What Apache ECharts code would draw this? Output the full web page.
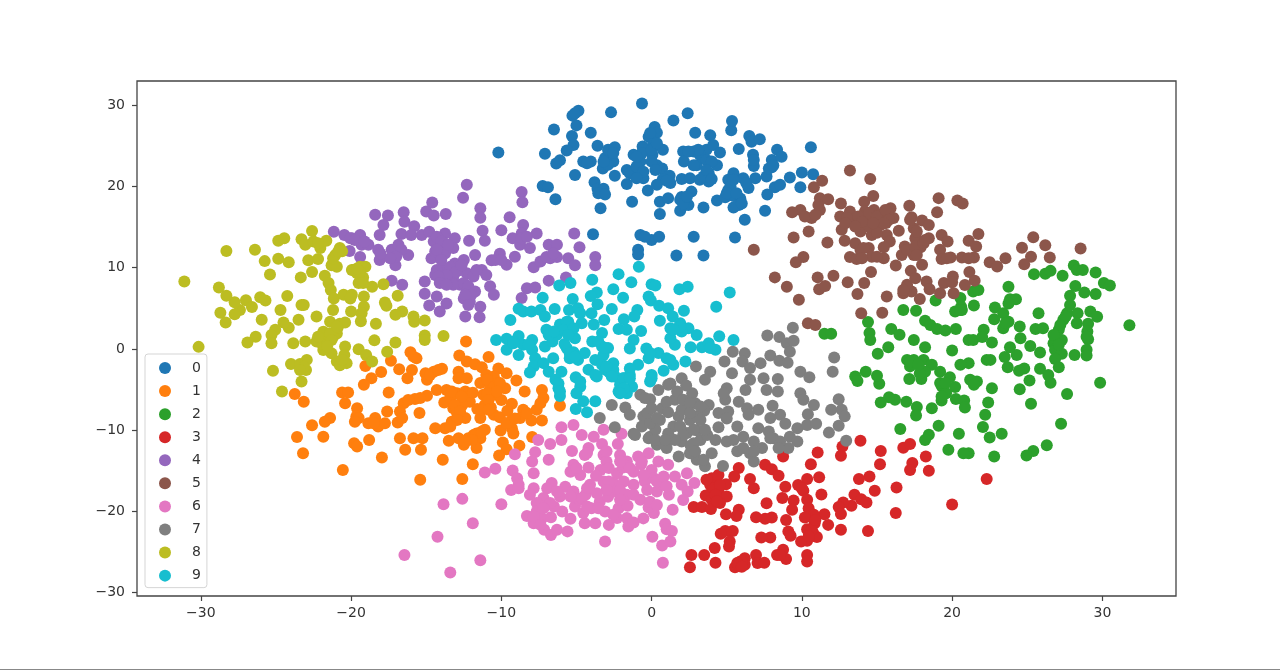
<!DOCTYPE html>
<html>
<head>
<meta charset="utf-8">
<style>html,body{margin:0;padding:0;background:#fff}#c{width:1280px;height:670px}</style>
<script src="https://cdn.jsdelivr.net/npm/echarts@6/dist/echarts.min.js"></script>
</head>
<body>
<div id="c"></div>
<script>
const labels = ['0','1','2','3','4','5','6','7','8','9'];
const colors = ['#1f77b4','#ff7f0e','#2ca02c','#d62728','#9467bd','#8c564b','#e377c2','#7f7f7f','#bcbd22','#17becf'];
const xTicks = [-30,-20,-10,0,10,20,30];
const yTicks = [-30,-20,-10,0,10,20,30];

const digit0 = [[-10.2,24.15],[-0.64,30.2],[-2.7,29.1],[-4.87,29.3],[-5.27,28.7],[-5,27.5],[-6.5,27],[-4.05,26.6],[-5.3,26.2],[-5.2,25.1],[-5.65,24.4],[-7.1,24],[-6.1,23.2],[-6.35,22.8],[-5.1,21.4],[-7.25,20.05],[-6.9,19.9],[-6.4,18.4],[-3.8,20.5],[-3.6,19.7],[-3.2,19.7],[-3.55,19.15],[-3.1,19],[-3.4,17.3],[-3.9,14.1],[-4.55,23.05],[-4.05,23.05],[-3.6,25],[-3.25,22.2],[-3.1,23.5],[-2.9,24.5],[-2.45,24.8],[-2.55,23.05],[-2.45,21.3],[-1.65,20.3],[-1.3,18.1],[-1.65,22],[-1.2,23.9],[-0.6,24.9],[-0.75,23.05],[-1.1,21.8],[-0.55,21],[-0.25,19.5],[-0.2,26.1],[0.2,27.3],[0.35,26.6],[0.1,25.2],[0.05,23.9],[0.35,22.6],[0.75,24.5],[0.7,22.2],[1.2,21.3],[0.75,20.9],[0.35,20.2],[1.25,20.4],[1.45,28.1],[2.4,29],[2.9,26.6],[0.55,18.1],[1.1,18.55],[0.55,16.6],[1.9,17],[2,18.7],[2.45,17.7],[2.65,19.35],[2,20.9],[2.55,21],[2.1,24.3],[2.8,24.3],[2.15,23.05],[3,22.6],[3.45,23.45],[3.65,24.5],[3.9,26.3],[4.1,25.1],[4.55,24.15],[4.35,22.6],[3.2,20.8],[3.8,21.6],[3.8,20.6],[3.45,17.4],[4.35,18.25],[4.9,18.65],[5.3,26.9],[5.35,28.05],[5.8,24.6],[6.5,26.2],[6.65,25.5],[7.2,25.8],[6.75,23.9],[6.8,22.5],[5.45,21.6],[5.1,20.8],[6.1,21],[6.9,21],[6.45,19.8],[5.1,19.55],[5.45,18.8],[5.9,18.5],[5.8,17.7],[5.45,17.4],[6.2,15.9],[7.55,17],[7.65,21.2],[8,23.25],[8,22.35],[8.35,24.5],[8.65,23.65],[8.2,19.9],[8.55,20.2],[7.7,19],[9.2,21.1],[9.9,19.9],[10,21.7],[10.75,21.5],[10.6,24.8],[-0.75,14],[-0.9,12.2],[-0.9,11.6],[0,13.4],[0.5,13.8],[-0.45,13.8],[1.65,11.5],[3.45,11.5],[2.8,13.8],[5.55,13.7],[-1.45,21.6],[-1,22.45],[-0.55,21.8],[-1,21],[-0.65,24.1],[-1,23.65],[0,23.05],[0.25,22],[1,20.7],[3.2,23.9],[3.65,23.25],[4,23.05],[3.1,24.5],[2.45,24.3],[2.8,22.6],[3.45,21.2],[3.65,22],[4,20.9],[2.2,17.7],[1.9,18.35],[2.1,17.9],[2.35,18.75],[5.25,20],[5.45,20.8],[5,19.15],[5.65,19.15],[6,17.9],[6.3,20.4],[7.8,22.2],[8.1,22.6],[6.8,23.25],[0,24.5],[0.35,25.3],[-2.9,22.65],[-3.2,23.05],[-2.55,24.1],[-4.3,22.85],[-0.1,26.55],[-5.1,29]];

const digit1 = [[-12.35,0.9],[-12.8,-0.8],[-10.85,-1],[-12.3,-1.55],[-11.75,-1.9],[-11.3,-2.25],[-16.05,-0.4],[-17.35,-1.45],[-15.65,-1.15],[-16.8,-2.5],[-15.95,-2.6],[-16.25,-3.6],[-19.05,-2.1],[-18,-2.85],[-18.65,-3.6],[-19.15,-4.4],[-15.05,-3],[-14.5,-2.8],[-13.95,-2.45],[-14.95,-3.8],[-12.85,-2.8],[-12.85,-3.6],[-12.3,-3.6],[-10.2,-2.4],[-9.65,-3],[-9,-3.9],[-11.4,-4.2],[-10.5,-3.4],[-10.75,-4.85],[-9.75,-4.85],[-8.45,-5.25],[-7.3,-5.05],[-7.2,-6.05],[-10.4,-5.65],[-11.2,-5.65],[-14.3,-5.05],[-13.65,-5.05],[-12.95,-5.45],[-12.4,-5.25],[-12.1,-6.5],[-17.5,-5.35],[-20.6,-5.35],[-20.2,-5.35],[-20.4,-6.7],[-23.75,-5.55],[-23.15,-6.5],[-19.6,-7.3],[-19.65,-8.3],[-18.85,-9.15],[-18.4,-8.5],[-18.2,-9.55],[-17.75,-9.15],[-17.6,-7.7],[-14.95,-5.75],[-15.75,-6.15],[-16.5,-6.7],[-16.75,-7.7],[-16.9,-9.05],[-15.45,-7.9],[-13.8,-6.6],[-13.2,-7.3],[-11.1,-6.9],[-11.4,-8.5],[-9.3,-6.75],[-8.55,-7.5],[-7.65,-7.5],[-6.1,-7],[-12.4,-8.5],[-12.95,-7.9],[-13.3,-8.95],[-13.75,-9.75],[-14.4,-9.75],[-10.5,-8.1],[-10.1,-8.4],[-9.3,-8.75],[-8.75,-8.5],[-8,-8.8],[-7.3,-8.8],[-9.3,-9.75],[-10.05,-10.05],[-11.1,-9.95],[-9.2,-10.4],[-11.85,-10.6],[-11.4,-11],[-12.2,-11],[-12.85,-11],[-13.5,-11.3],[-12.5,-11.8],[-11.65,-12.2],[-16.75,-11],[-15.85,-11],[-15.25,-11],[-16.4,-12.4],[-15.35,-12.4],[-18.8,-11.2],[-19.8,-11.6],[-19.6,-12],[-21.4,-8.5],[-21.75,-8.95],[-22.6,-9.4],[-21.85,-10.8],[-23.6,-10.85],[-23.2,-12.85],[-17.95,-13.35],[-20.55,-14.9],[-13.9,-13.65],[-11.9,-14.2],[-15.4,-16.1],[-12.6,-16],[-9.9,-11.5],[-9.65,-12.35],[-10.15,-13.1],[-8.8,-11.9],[-7.95,-10.85],[-10.9,-6],[-10,-6.3],[-11.6,-7.4],[-10.7,-7.2],[-12.6,-6.9],[-13.4,-6],[-11.9,-5.4],[-10.2,-4.2],[-11,-3.2],[-9.6,-7.6],[-10.95,-3.8],[-10.5,-4.65],[-10.1,-4.2],[-10.95,-5.45],[-10.3,-5.25],[-10.85,-6.3],[-11.3,-7.5],[-10.85,-7.5],[-13.3,-5.25],[-12.65,-5.85],[-13.1,-6.9],[-12.75,-7.7],[-12.95,-8.75],[-13.4,-9.55],[-9.65,-9.15],[-9.1,-8.55],[-8.3,-7.9],[-7.4,-6.7],[-11.65,-10.4],[-11.3,-10.15],[-11.95,-11.2],[-12.4,-11.4],[-18.5,-9.15],[-16.6,-8.5],[-16.2,-6.3],[-15.4,-6.05],[-14.75,-3.2],[-14.2,-2.6],[-19.5,-8.5],[-19.75,-8.95],[-15.85,-0.95]];

const digit2 = [[11.5,1.85],[11.95,1.85],[14.4,3.3],[14.5,1.95],[14.55,1.1],[16.75,4.8],[17.6,4.7],[18.9,5.95],[18.2,3.45],[18.55,2.95],[19,2.45],[19.55,2.25],[20.25,2.45],[15.95,2.45],[16.5,1.75],[17.45,1.1],[18.2,0.2],[15.75,0.2],[15.05,-0.6],[20,-0.2],[21.1,1.1],[21.4,1.1],[22.1,2.35],[22,1.45],[22.65,0.8],[20.55,6.25],[20.6,5.2],[20.2,4.6],[20.65,4.8],[21.45,5.35],[21.4,7.05],[21.75,7.25],[23.75,7.65],[23.85,6.1],[24.25,6.1],[22.85,5.1],[23.4,4.4],[22.8,3.65],[23.75,3.35],[23.4,2.55],[24.5,2.75],[25.75,4.4],[25.55,2.45],[26.05,2.55],[25.45,9.2],[26.2,9.25],[26.55,9.6],[27.35,9],[28.1,10.25],[28.3,9.7],[28.7,9.7],[29.55,9.4],[30.1,8.1],[30.5,7.8],[28.2,7.75],[27.85,6.55],[28.8,6.95],[29.55,6.75],[27.85,5.4],[27.65,4.4],[28.35,4.4],[29.2,4.6],[29.65,3.95],[27.4,3.6],[28.3,3.15],[29.05,3.1],[29,2.15],[29.05,1.2],[27.1,2.35],[27.3,1.1],[26.85,1.5],[26.75,0.7],[26.85,-0.1],[27.3,-0.6],[26.85,-1.25],[27.1,-2.25],[28.15,-0.75],[28.95,-0.1],[28.95,-0.8],[31.8,2.9],[29.85,-4.15],[27.65,-5.55],[27.25,-9.2],[26.3,-11.85],[25.4,-12.55],[24.95,-13.1],[22.8,-13.25],[21.1,-12.85],[20.75,-12.85],[19.75,-12.4],[23.3,-10.45],[22.5,-10.9],[22.05,-9.6],[20.45,-10.45],[22.2,-8.1],[22.4,-6.6],[22.65,-4.85],[24.5,-4.95],[25.25,-6.75],[26.55,-4.15],[26.4,-3.2],[25.85,-2.45],[25.15,-3.9],[24.8,-2.4],[24.45,-2.7],[23.7,-2.25],[24.3,-0.75],[23.85,0.2],[23.5,-1],[24.55,1.3],[25.2,0.35],[25.85,-0.45],[22.3,-1.35],[22.55,-1.35],[21.1,-1.75],[20.55,-1.95],[21.2,-3.8],[21.65,-4],[21.45,-4.4],[20.2,-4.7],[19.85,-3.5],[19.2,-2.8],[19.3,-4.55],[19.6,-5.45],[19.3,-6.35],[20.25,-6.15],[20.8,-6.35],[20.85,-7.2],[18.65,-7.3],[17.65,-7.15],[17.6,-8.2],[16.95,-6.5],[16.2,-6.25],[15.8,-5.95],[15.25,-6.6],[15.15,-4.3],[15,-3.3],[14.25,-2.8],[13.55,-3.4],[13.7,-3.95],[17.15,-3.7],[17.95,-3.7],[17,-1.35],[17.2,-2.15],[17.45,-1.35],[18.1,-1.35],[18.65,-1.95],[18.2,-2.8],[19.1,-9.45],[18.45,-10.55],[18.2,-11.2],[16.55,-9.85],[27.55,3.98],[27.2,2.95],[26.75,1.7],[27.1,0.5],[28.95,1.5],[23.75,5.6],[23.55,3.15],[20.55,4.8],[19.2,-4.2],[19.55,-4.2],[19.3,-5.85],[17.85,-3],[17.2,-1.55],[17.75,-1.95]];

const digit3 = [[13.9,-11.3],[12.7,-12],[12.6,-13.15],[11.05,-12.75],[8.75,-13.25],[10.6,-14.2],[15.25,-12.55],[15.2,-14.2],[16.75,-12.15],[17.2,-11.7],[18.25,-13.25],[17.35,-14.05],[17.2,-14.9],[18.45,-15],[22.3,-16],[20,-19.15],[16.3,-17.05],[16.25,-20.2],[14.85,-17.45],[14.5,-15.7],[13.8,-16],[13.5,-17.95],[13.95,-18.5],[14.3,-18.9],[14.4,-22.4],[12.6,-22.25],[11.75,-21.65],[11.5,-20.35],[13.3,-19.3],[12.75,-18.9],[12.45,-19.45],[12.6,-20.3],[11.3,-17.9],[11.15,-15.8],[10.35,-16],[9.75,-16.75],[10.1,-17.45],[8.9,-16.95],[10.35,-18.55],[10.45,-19.6],[10.8,-20.4],[10.2,-20.75],[10.85,-21.45],[10.35,-22.2],[10.75,-22.65],[11,-23.15],[10.35,-23.6],[9.95,-23.7],[8.7,-18.35],[9.45,-18.65],[9.35,-19.8],[8.95,-21.05],[9.1,-22.45],[9.25,-23],[7.9,-23.2],[7.65,-19],[8,-20.75],[7.55,-20.9],[6.95,-20.7],[6.8,-17.15],[6.55,-16],[7.55,-14.25],[8,-14.8],[8.45,-15.6],[5.8,-14.65],[5.5,-15.7],[4.95,-16.65],[4,-15.9],[4.45,-15.5],[3.9,-16.75],[4.45,-17.35],[3.6,-18.05],[4,-18.55],[5,-18.15],[4.55,-18.95],[2.8,-19.45],[3.35,-19.45],[3.95,-19.7],[4.95,-20.35],[5.8,-19.8],[5.65,-20.55],[5.4,-22.4],[4.9,-22.4],[4.6,-22.75],[5.2,-23.7],[5.15,-24.3],[4.2,-24.5],[3.5,-25.35],[2.65,-25.35],[4.25,-26.3],[2.55,-26.85],[5.55,-26.85],[5.9,-26.15],[6.2,-25.75],[6.2,-26.55],[5.75,-26.55],[6.95,-25.35],[7.05,-26.35],[7.5,-26.3],[8.35,-25.35],[8.75,-24.7],[8.95,-25.85],[10.35,-25.35],[10.35,-26.15],[7.3,-23.2],[4.1,-17.15],[4.55,-16.75],[4.25,-17.95],[3.65,-16.1],[4.35,-18.75],[6,-26.15],[5.7,-26.35],[6,-26.8],[10.65,-22.25],[10.9,-21.05],[10.45,-23.05],[10,-17.15],[8.55,-25.35]];

const digit4 = [[-12.3,20.2],[-12.55,18.6],[-14.6,18],[-15,16.9],[-14.5,16.4],[-13.7,16.6],[-16.5,16.8],[-16.45,15.65],[-18.4,16.5],[-17.55,16.4],[-17.85,15.25],[-18.1,14],[-21.15,14.4],[-20.45,14],[-19.95,13.6],[-19.4,14],[-19.3,12.8],[-18.85,12.8],[-20.1,12.05],[-19.4,11.3],[-18.2,12.2],[-18.1,10.95],[-17.3,12.2],[-16.85,12.8],[-16.2,11.55],[-17.05,10.3],[-16.65,14.15],[-15.8,15.1],[-16,14],[-15.3,14],[-14.8,14.4],[-14.5,13.2],[-14.65,11.15],[-14.4,12],[-13.75,14.2],[-13.85,13],[-13.75,11.75],[-13.1,13.6],[-13.2,12.4],[-13.1,10.5],[-12.5,10.95],[-12.15,13.3],[-11.75,11.55],[-11.4,17.3],[-11.4,16.15],[-11.25,14.55],[-11.1,13.3],[-10.65,10.9],[-10.1,11.7],[-10,14.6],[-9.45,16.2],[-9.65,10.35],[-9.1,11.35],[-8.65,19.3],[-8.6,18.05],[-9.25,13.6],[-8.75,12.8],[-8.55,15.25],[-8.65,14.2],[-8.1,12.4],[-7.65,14.2],[-7.85,10.05],[-7.4,10.75],[-6.85,12.8],[-6.3,12.8],[-6.75,11.15],[-6.3,11.3],[-5.15,14.2],[-4.8,12.5],[-5.55,11.15],[-5.1,10.3],[-3.75,11.3],[-3.75,10.3],[-14.4,9.1],[-13.75,9.9],[-13.2,8.9],[-12.3,9.3],[-11.3,9.7],[-11,9.1],[-11.85,8.9],[-13.85,8.7],[-12.75,7.9],[-12.3,7.05],[-11.75,7.05],[-10.75,7.7],[-10.5,6.65],[-12.1,5.8],[-11.4,5.2],[-12.4,4],[-11.45,3.9],[-15.1,8.3],[-15.1,6.8],[-14.3,6.45],[-13.65,5.6],[-14.8,5.35],[-14.1,4.6],[-17.3,8.4],[-16.6,7.9],[-6.85,8.4],[-5.7,8.8],[-8.3,7.45],[-7.75,7.55],[-8.65,6.25],[-13.3,8.1],[-12.75,9.7],[-14.3,9.7],[-12.5,6.2],[-14.3,13.8],[-14,13.2],[-13.55,12.8],[-14.3,12.2],[-14,10.95],[-13.4,10.1],[-13,9.5],[-12.65,10.3],[-13.65,9.1],[-13.2,7.9],[-12.5,8.1],[-12.2,7.7],[-12,6.65],[-12.4,6.65],[-12.2,5.4],[-14.2,8.9],[-14.1,8.1],[-13.65,7.9],[-20.05,13.6],[-19.75,13.4],[-19.1,13.2],[-16.65,12.2],[-17,11.35],[-17.4,11.15],[-8.65,13.6],[-8.3,13.8],[-10.4,10.95],[-10,10.95],[-7,11.3],[-6.55,11.75],[-11.65,9.7],[-18.05,11.75]];

const digit5 = [[13.2,21.95],[14.55,20.9],[14.75,18.8],[11.35,20.7],[10.8,19.9],[11.2,18.55],[11.75,18.4],[11.2,17.1],[10.65,16.1],[9.9,17.1],[9.35,16.8],[10.2,16.3],[9.45,13.7],[10.45,14.45],[11.7,13.1],[6.8,12.2],[10.1,11.3],[9.6,10.65],[8.2,8.8],[9,7.65],[9.8,6.05],[11.05,8.8],[12.1,9],[11.15,7.35],[11.55,7.75],[13.05,8.2],[14.15,8.1],[13.7,6.75],[14.6,9.45],[15.65,6.45],[13.95,4.4],[15.35,4.45],[10.4,3.15],[10.9,2.95],[12.6,17.9],[13.2,16.9],[12.55,16.3],[13.35,15.9],[12.65,14.65],[12.85,13.3],[14.15,18.1],[14.2,16.9],[14.3,15.65],[13.9,14.45],[14.65,14],[14.8,17.1],[15.3,16.5],[15.9,17.3],[16.1,16.1],[15.2,15.25],[16.45,14.55],[15.65,14],[15.85,13.2],[13.55,13],[13.9,12.2],[14.45,12.4],[13.2,11.3],[13.65,11.05],[14.65,11.35],[15.45,11.15],[15.45,12.5],[16.25,10.25],[17.15,17.6],[19.1,18.55],[20.35,18.25],[20.7,17.9],[19,16.8],[17.3,16.2],[18,15.8],[18.45,15.25],[17.45,14.85],[17.55,13.6],[18.45,13.6],[16.85,12.6],[16.65,11.55],[17.45,11.55],[17.9,12.5],[19.3,14],[19.7,13.2],[21.75,14.15],[21.1,13.3],[21.6,12.6],[19.2,12.2],[19.3,11.05],[19.9,11.25],[20.65,11.25],[21.45,11.25],[21.1,11.15],[22.5,10.65],[23,10.15],[23.55,11.15],[24.65,12.45],[25.4,13.75],[26.2,12.75],[25.25,11.35],[26.5,11.25],[24.8,10.4],[28.55,12.35],[18,10.35],[17.25,9.6],[17.55,8.7],[17,7.9],[16.75,6.85],[17.3,7.05],[17.85,6.15],[18.3,8.3],[18.5,7.35],[19.45,8.1],[20.05,8.9],[20,8.2],[19.2,6.85],[20.1,6.85],[21.15,9.45],[21.5,8.4],[20.85,7.85],[14,16.3],[14.9,15.9],[15.6,15.5],[14.5,15],[15,14.3],[15.7,16.8],[13,16.1],[12.9,15.45],[14.45,16.7],[15,16.3],[15.55,17.1],[15.8,15.9],[15.45,15.45],[14.75,15.45],[13.75,16.3],[14,15.65],[13.55,15.05],[17,12.2],[17.55,12.6],[18.1,13],[17.65,14.45],[18.2,13.4],[17.2,15.9],[17,7.65],[16.75,7.25],[14.1,12.4],[15,11.35],[14,11.15],[10.9,16.5],[11.1,17.7],[17.65,11.55],[19.65,11.15]];

const digit6 = [[-16.45,-25.35],[-13.4,-27.5],[-11.4,-26],[-14.25,-23.1],[-11.9,-21.45],[-13.85,-19.1],[-12.6,-18.45],[-10,-19.1],[-11.1,-15.2],[-10.4,-14.75],[-9.25,-14.95],[-8.95,-15.9],[-8.85,-16.7],[-9.35,-17.35],[-8.85,-17.15],[-9.1,-12.95],[-7.75,-12.7],[-7.95,-13.85],[-7.85,-15.3],[-6.85,-13.65],[-6.75,-11.7],[-7.55,-11.2],[-6,-11.2],[-6,-9.65],[-5.2,-9.35],[-5.3,-12.55],[-4.65,-10.6],[-3.85,-10.8],[-3.2,-9.95],[-3.3,-11.7],[-4.2,-12.2],[-4.45,-13.05],[-3.2,-13.05],[-2.25,-11.7],[-2,-10.45],[-5.2,-14.25],[-5.4,-15.1],[-4.2,-14.6],[-4.75,-15.5],[-3,-13.85],[-3.4,-14.9],[-2.1,-13.05],[-1.65,-13.85],[-0.9,-13.25],[-0.2,-12.85],[0.45,-13.85],[1.1,-14.25],[0,-14.9],[-1.2,-15.1],[-2.3,-15.3],[2.35,-15.3],[1.55,-15.7],[2.85,-16.5],[2,-16.7],[0.15,-15.9],[-3.2,-16.3],[-2.55,-16.5],[-4.1,-16.7],[-1.2,-16.7],[-0.45,-16.3],[-7.85,-17.15],[-8.1,-17.95],[-6.65,-16.5],[-5.75,-16.95],[-6.95,-17.15],[-7.2,-18.35],[-6.1,-18.15],[-5.2,-17.55],[-4.4,-17.95],[-5.1,-19.4],[-3.45,-18.8],[-2.55,-17.55],[-1.65,-17.95],[-0.75,-18.55],[0.35,-17.55],[1.15,-17.95],[2.4,-17.55],[2.1,-18.6],[-7.65,-18.95],[-7.65,-20],[-8.3,-20.55],[-7.85,-21.45],[-7.3,-20.85],[-7.15,-22.25],[-6.7,-22.9],[-6.3,-22.25],[-5.6,-22.45],[-5.95,-20],[-5.4,-20.9],[-4.45,-21.45],[-3.75,-21.45],[-4.55,-20.2],[-4,-19.6],[-3.1,-20],[-2.2,-19.6],[-2.85,-21.65],[-2.3,-20.8],[-1.65,-20.8],[-1.55,-21.85],[-1.2,-21.35],[-0.55,-20.85],[0.15,-20.2],[1.4,-19.8],[0.9,-21.5],[1,-22.2],[1.35,-22.4],[0.05,-23.1],[-3.1,-23.7],[0.7,-24.2],[1.25,-23.7],[0.75,-26.3],[-1.6,-19.3],[-0.2,-19.5],[-2.9,-18.2],[-4.8,-18.6],[-3.7,-15.6],[-1.9,-14.6],[-0.7,-14.2],[0.8,-16.7],[-6.5,-19.4],[-6.7,-20.7],[-1.85,-14.25],[-1.45,-14.65],[-0.65,-13.85],[-0.55,-15.5],[-2.1,-13.85],[-2.85,-14.65],[-2.85,-16.3],[-1.85,-16.3],[-2.1,-17.35],[-1.2,-17.95],[-0.3,-17.35],[0.35,-16.3],[0.8,-15.7],[-0.1,-18.8],[0.35,-19.2],[-3,-17.35],[-3.65,-17.75],[-4.3,-17.15],[-4.65,-18.35],[-5.4,-18.15],[-6.3,-17.55],[-6.75,-18.95],[-7.2,-19.6],[-7.85,-20.6],[-7.4,-21.65],[-2.55,-20.4],[-2.1,-18.55],[-4.3,-19.4],[-3.55,-19.6],[-5,-14.65],[-4.3,-12.8],[-3,-12.6],[1,-16.9]];

const digit7 = [[7.7,1.65],[9.4,2.6],[8.5,1.45],[9,0.7],[9.45,1],[9.2,-0.35],[5.4,-0.35],[6.2,-0.55],[4.85,-1.55],[6.05,-1.55],[6.55,-2.35],[7.25,-1.75],[7.9,-0.8],[8.5,-1.45],[9.05,-1.7],[9.9,-2.8],[10.5,-3.5],[12.15,-1.05],[12.05,-2.8],[5.35,-3],[2.95,-2.15],[3.9,-2.8],[3.55,-3.8],[6.55,-3.8],[7.45,-3.6],[8.4,-3.7],[6.25,-5.05],[5,-4.85],[4.9,-6.25],[7.65,-5.05],[8.4,-5.25],[9.9,-5.45],[10.1,-6.25],[10.8,-6.9],[12.45,-6.2],[11.95,-7.5],[12.65,-7.5],[12.85,-8.3],[10.4,-8.05],[8.05,-7],[7.1,-7.5],[6.35,-7.3],[5.8,-6.5],[6.45,-8.1],[8.55,-8.1],[7.9,-8.5],[5.1,-7.7],[4.45,-7.9],[3.8,-6.9],[8.9,-9.2],[9.7,-9.75],[10.35,-9.35],[10.95,-9.2],[12.45,-9.45],[11.8,-10.3],[12.95,-11.3],[7.1,-9.75],[7.8,-10.15],[8.1,-11],[9.2,-10.8],[9.7,-11.4],[9.1,-12.2],[8.55,-11.4],[7.35,-12.2],[6.8,-11.4],[6.1,-10.8],[5.7,-9.55],[5,-8.55],[4.45,-9.65],[5,-11.4],[5.7,-12.6],[6.55,-12.85],[6.8,-13.85],[4.75,-14.4],[4,-12.85],[3.55,-14.45],[3,-13.65],[2.55,-12.85],[3.25,-11.2],[3.7,-10.6],[1.8,-13.25],[1.25,-11],[0.35,-11.8],[-0.1,-10.8],[-1.2,-10.45],[-2.45,-9.65],[-3.45,-8.5],[-1.75,-7.2],[-1.45,-8.1],[-2.65,-6.9],[-0.75,-5.65],[-0.1,-6.2],[0.45,-5.05],[1.1,-4.4],[1.55,-6.25],[2,-3.6],[2.7,-5.45],[2.9,-6.7],[0.7,-7.3],[-0.55,-8.3],[-0.65,-9.55],[0.55,-8.75],[0.25,-9.95],[1.8,-8.3],[1.45,-9.55],[2.55,-8.75],[2.35,-10.35],[3,-8.3],[2,-11.4],[2.3,-4.5],[2,-7.5],[3,-10],[1.1,-7.8],[3.5,-7.6],[2.6,-11.9],[1,-12.2],[1.25,-4.25],[1.7,-5.25],[1,-6.5],[2.1,-6.25],[2.55,-6.7],[3.25,-7.1],[2.55,-7.9],[3.25,-8.75],[3.55,-9.95],[2.8,-9.95],[1.9,-9.55],[2.1,-10.6],[1.55,-11.2],[1.1,-10.4],[2.8,-11.6],[2.9,-12.6],[3.45,-13.65],[4.25,-11.2],[5.45,-11.2],[6.1,-12.2],[6.8,-12.6],[-0.1,-9.15],[-0.3,-7.9],[0,-7.3],[-0.45,-6.05],[0.35,-8.5],[-1.1,-10.6],[-0.2,-11],[0.25,-11.2],[0.9,-11.2],[4.8,-5.45],[7.9,-11],[8.45,-12.2]];

const digit8 = [[-31.1,8.3],[-30.15,0.25],[-28.3,12.05],[-26.4,12.2],[-25.75,10.8],[-24.85,11.1],[-24.15,10.65],[-24.85,13.3],[-24.45,13.6],[-25.4,9.15],[-23.35,8.8],[-22.6,9.45],[-22.85,10.9],[-22.2,11.05],[-23.3,13.5],[-23.05,12.8],[-22.6,14.5],[-22.5,13.2],[-22.05,12.4],[-21.65,13.3],[-20.75,12.4],[-21.05,11.55],[-21.3,10.3],[-20.95,10.1],[-20.6,12],[-19.95,9.7],[-19.4,10.1],[-19.05,10.1],[-19.6,9.3],[-19.2,8.8],[-19.5,8.1],[-18.6,7.65],[-17.85,7.95],[-21.75,9],[-21.5,8.1],[-21.35,7.25],[-21.15,6.2],[-20.5,6.65],[-19.95,6.65],[-20.05,6.2],[-19.15,6.45],[-19.15,5.2],[-20,4.6],[-19.3,4.4],[-19.35,3.4],[-16.9,6.55],[-17.75,5.7],[-17.65,5.3],[-16.6,4.6],[-17.05,4.2],[-18.35,3.1],[-15.85,4],[-15.8,3.35],[-15.1,3.5],[-15.1,1.65],[-15.1,1.1],[-13.85,1.6],[-17.05,0.8],[-18.45,1.05],[-17.6,-0.35],[-19.5,-0.05],[-19,-0.75],[-18.6,-1.55],[-20.4,0.3],[-20.45,-0.75],[-20.3,-1.75],[-20.95,-1.55],[-20.75,-2],[-21.3,-0.55],[-21.85,-0.15],[-21.6,1.1],[-22.3,0.9],[-21.85,2.1],[-20.95,1.9],[-21.4,3.35],[-20.75,3.1],[-20.4,3.25],[-21.2,4.8],[-22.3,4],[-23.15,5.4],[-23.3,5.4],[-23.5,3.6],[-24.15,2.6],[-24.5,3.25],[-24.7,4.8],[-24.25,6.5],[-25.05,2.35],[-25.3,1.7],[-25.3,0.7],[-23.85,0.7],[-23.05,0.9],[-26.35,1.5],[-26.9,0.8],[-25.95,3.6],[-26.05,6.35],[-25.7,5.95],[-27,6],[-26.6,5.15],[-27.4,4.8],[-27.75,4.25],[-27.75,5.75],[-28.3,6.55],[-28.8,7.55],[-28.7,4.45],[-28.35,3.25],[-25.2,-2.7],[-24,-1.85],[-23.4,-1.85],[-22.95,-1.35],[-23,-2.6],[-23.3,-4],[-24.6,-5.25],[-21.2,1.5],[-21.9,0.5],[-20.9,2.6],[-19.85,9.7],[-19.4,9.5],[-19.6,9.9],[-19.2,8.1],[-21.2,11.15],[-20.85,12],[-21.85,1.3],[-21.4,1.9],[-21.85,0.5],[-21.3,1.1],[-20.95,2.75],[-22.2,1.5],[-21.6,0.3],[-20.6,-1.35],[-23.15,-2.2],[-23.4,-2.6],[-22.2,13]];

const digit9 = [[-0.85,10.1],[-2.2,9.2],[-1.35,8.2],[-3.95,8.5],[-5.4,8.1],[-6.15,7.8],[0,7.95],[0.25,7.8],[1.85,7.35],[2.4,7.65],[5.2,6.95],[4.3,5.2],[-2.55,7.35],[-1.9,6.3],[-3.65,6.95],[-4.05,6.5],[-0.2,6.45],[-0.05,5.95],[-7.25,6.3],[-5.25,6.15],[-3.6,5.5],[-2.65,4.9],[-0.95,4.8],[0.5,5.3],[1.1,5],[2.15,4.7],[-8.85,4.95],[-8.55,4.6],[-8,4.6],[-7.4,4.8],[-6.45,4.9],[-5.5,4.8],[-4.9,5],[-4.75,4.4],[-7.1,4],[-9.4,3.55],[-4,4.4],[-3.85,3],[-3.15,3.55],[-4.65,3.15],[-5.55,3.35],[-6.1,3],[-7,2.35],[-1.85,3.65],[-1.15,4],[-2.2,2.45],[-1.65,2.35],[-0.7,2.2],[0.55,3.45],[1.4,4],[1.25,2.55],[1.9,3.15],[2.45,2.55],[2,2.15],[3,1.7],[-3.3,1.95],[-1.2,1.1],[-5.45,2.15],[-5.1,1.3],[-6.3,1.75],[-7.1,0.3],[-10.35,1.1],[-9.65,1.25],[-8.85,1.6],[-9.2,0.9],[-7.95,1.1],[-8.55,0.5],[-9.65,-0.1],[-8.85,-0.75],[-7.95,-0.1],[-7.75,-1.15],[-7.85,-2.15],[-8.1,-2.9],[-6.55,-1.15],[-7.2,-1.75],[-6.85,-2.8],[-6,-2.8],[-6.4,-3.8],[-6.2,-4.85],[-6.1,-5.8],[-5.65,0.1],[-5.45,-1.15],[-4.9,-1.35],[-4.45,-0.5],[-3.95,0.9],[-3.3,0.3],[-2.9,0.1],[-3.75,-1.35],[-3.2,-0.75],[-2.55,-1.75],[-4.2,-2.55],[-3.65,-3.4],[-3.1,-2.55],[-5.05,-3.5],[-4.75,-4.65],[-5,-5.45],[-4.55,-6.45],[-3.75,-6.45],[-5.05,-7.4],[-4.3,-7.8],[-2.45,-3.4],[-2.1,-4.4],[-2.2,-5.25],[-1.45,-3.2],[-1.65,-5.45],[-1.3,-4.65],[-0.9,-1.95],[-1.45,-2.4],[-1.45,0.05],[-0.35,0.05],[-0.2,-1.15],[0.45,-0.5],[1,-1.15],[1.45,-1.95],[0.8,-2.7],[0,-3.2],[-0.1,-4],[2.25,-1.55],[2.6,0.2],[3.35,0.2],[3.8,0.7],[4.25,-0.1],[4.5,1.55],[5.45,1.1],[1.55,0.5],[1.25,1.3],[-6.6,0.9],[-5.8,0.6],[-5.2,-0.4],[-2.8,-2.9],[-1.9,-3.6],[-5.65,3.35],[-5.9,2.35],[-5.2,2.55],[-5.55,1.7],[-6.85,1.7],[-6.5,2.15],[-5.45,-0.55],[-5.1,-0.95],[-2.55,-2.55],[-2.65,-3.4],[-1.85,-3.6],[-1.85,-4.85],[-2.1,-5.45],[-1.45,-3.6],[-3.75,-3.2],[-3.3,-1.95],[-3,-2.15],[-6.2,-4.25],[-6.1,-5.25],[-4.75,-4],[-8.2,0.5],[-9.2,0.7],[1.25,-1.35],[-0.1,-0.5],[1.9,2.75],[1.45,2.35],[3.9,0.1],[0,-3.6],[-3.55,0.9],[-3.1,0.1]];

const seriesValues = [digit0,digit1,digit2,digit3,digit4,digit5,digit6,digit7,digit8,digit9];

const tickFormat = v => String(v).replace('-', '\u2212');
const chart = echarts.init(document.getElementById('c'), null, {renderer:'canvas'});
chart.setOption({
  animation:false,
  backgroundColor:'#fff',
  color:colors,
  grid:{left:137,top:81,width:1039,height:515,show:true,borderColor:'#444',borderWidth:1.3,backgroundColor:'transparent'},
  xAxis:{type:'value',min:-34.25,max:34.9,splitLine:{show:false},
    axisLine:{show:false,onZero:false},
    axisTick:{show:true,length:5,inside:false,lineStyle:{color:'#444',width:1.2},customValues:xTicks},
    axisLabel:{customValues:xTicks,formatter:tickFormat,color:'#333',fontSize:14,fontFamily:'DejaVu Sans',margin:10}},
  yAxis:{type:'value',min:-30.4,max:32.96,splitLine:{show:false},
    axisLine:{show:false,onZero:false},
    axisTick:{show:true,length:5,inside:false,lineStyle:{color:'#444',width:1.2},customValues:yTicks},
    axisLabel:{customValues:yTicks,formatter:tickFormat,color:'#333',fontSize:14,fontFamily:'DejaVu Sans',margin:12}},
  legend:{show:true,orient:'vertical',left:145,top:354,padding:[7,6,5,14],itemWidth:12,itemHeight:12,itemGap:9.07,
    icon:'circle',backgroundColor:'#fff',borderColor:'#d5d5d5',borderWidth:1,borderRadius:3,
    textStyle:{color:'#333',fontSize:14,fontFamily:'DejaVu Sans',padding:[0,0,0,16]},
    data:labels,selectedMode:false},
  graphic:[{type:'rect',silent:true,shape:{x:0,y:669,width:1280,height:1},style:{fill:'#888'}}],
  series:labels.map((name,i)=>({name,type:'scatter',data:seriesValues[i],symbol:'circle',symbolSize:12,
    itemStyle:{color:colors[i],opacity:1},emphasis:{disabled:true},silent:true,large:false}))
});
</script>
</body>
</html>
